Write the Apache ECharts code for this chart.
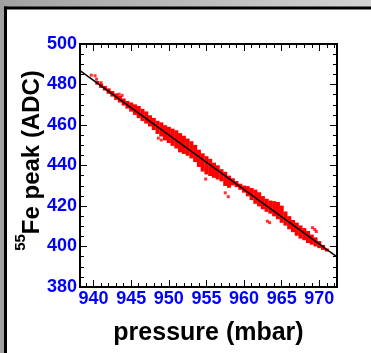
<!DOCTYPE html>
<html>
<head>
<meta charset="utf-8">
<script src="https://cdn.jsdelivr.net/npm/echarts@6/dist/echarts.min.js"></script>
<style>
  html, body { margin: 0; padding: 0; background: #fff; }
  #chart { width: 371px; height: 353px; }
</style>
</head>
<body>
<div id="chart"></div>
<script>
// band of measured points: pressure (mbar) and upper / lower edge of the red cloud (ADC)
var bandPressure = [940.5, 941, 941.5, 942, 942.5, 943, 943.5, 944, 944.5, 945,
  945.5, 946, 946.5, 947, 947.5, 948, 948.5, 949, 949.5, 950,
  950.5, 951, 951.5, 952, 952.5, 953, 953.5, 954, 954.5, 955,
  955.5, 956, 956.5, 957, 957.5, 958, 958.5, 959, 959.5, 960,
  960.5, 961, 961.5, 962, 962.5, 963, 963.5, 964, 964.5, 965,
  965.5, 966, 966.5, 967, 967.5, 968, 968.5, 969, 969.5, 970,
  970.5, 971];
var bandHigh = [481.7, 480.5, 479.3, 478.1, 476.8, 475.6, 474.4, 473.1, 471.9, 471.1,
  470.2, 469.4, 468.0, 466.7, 464.8, 463.5, 462.1, 461.3, 459.9, 459.1,
  458.2, 457.4, 456.0, 454.7, 453.3, 452.0, 450.2, 447.8, 446.0, 444.6,
  443.3, 441.4, 440.1, 438.2, 436.9, 435.0, 433.7, 432.3, 431.0, 430.1,
  429.8, 428.9, 428.1, 426.8, 424.9, 423.6, 422.7, 422.4, 422.0, 420.2,
  417.3, 415.0, 413.1, 411.8, 410.4, 409.1, 407.7, 405.9, 404.5, 402.7,
  400.8, 399.0];
var bandLow = [479.9, 478.3, 477.0, 475.4, 474.0, 472.4, 471.1, 469.6, 468.1, 466.6,
  465.0, 463.4, 462.0, 460.7, 459.3, 457.5, 455.6, 454.3, 452.4, 451.1,
  449.7, 448.4, 446.5, 445.7, 444.8, 443.5, 441.7, 439.3, 437.0, 435.6,
  434.8, 433.9, 433.1, 432.2, 429.9, 429.0, 430.2, 429.3, 428.0, 426.6,
  424.8, 422.9, 421.1, 419.8, 418.4, 417.1, 416.2, 414.9, 413.5, 411.7,
  410.3, 408.5, 407.1, 405.3, 403.9, 403.1, 401.7, 400.9, 400.0, 399.2,
  398.3, 397.5];
// isolated points outside the dense band
var strayPoints = [[939.7, 484.6], [940.2, 484.3], [940.4, 482.6], [941.0, 480.9],
  [943.4, 475.2], [943.8, 474.6], [948.6, 453.5], [949.0, 452.6],
  [954.9, 433.3], [957.5, 426.5], [957.9, 424.6], [963.1, 412.5],
  [963.4, 411.8], [969.1, 409.3], [969.4, 408.4], [969.6, 407.4]];
// straight-line fit, end points at the frame edges
var fitLine = [[938.2, 486.8], [972.35, 394.85]];

var xMajorTicks = [940, 945, 950, 955, 960, 965, 970];
var xMinorTicks = [939, 941, 942, 943, 944, 946, 947, 948, 949, 951, 952, 953, 954,
  956, 957, 958, 959, 961, 962, 963, 964, 966, 967, 968, 969, 971, 972];

var chart = echarts.init(document.getElementById('chart'));

var black = '#000000';
var labelStyle = {
  color: '#0000ff', fontWeight: 'bold', fontSize: 18,
  fontFamily: 'Liberation Sans', margin: 3
};

function xAxisDef(pos, ticks, len, withLabels) {
  var ax = {
    type: 'value', position: pos, min: 938.2, max: 972.35,
    axisLine: { show: true, onZero: false, lineStyle: { color: black, width: 2 } },
    axisTick: { show: true, inside: true, length: len, customValues: ticks,
      lineStyle: { color: black, width: 1 } },
    axisLabel: { show: false },
    splitLine: { show: false }
  };
  if (withLabels) {
    ax.axisLabel = Object.assign({ show: true, customValues: ticks }, labelStyle);
    ax.name = 'pressure (mbar)';
    ax.nameLocation = 'middle';
    ax.nameGap = 34;
    ax.nameMoveOverlap = false;
    ax.nameTextStyle = { color: black, fontWeight: 'bold', fontSize: 25,
      fontFamily: 'Liberation Sans' };
  }
  return ax;
}

function yAxisDef(pos, withLabels) {
  var ax = {
    type: 'value', position: pos, min: 380, max: 500, interval: 20,
    axisLine: { show: true, onZero: false, lineStyle: { color: black, width: 2 } },
    axisTick: { show: true, inside: true, length: 7, lineStyle: { color: black, width: 1 } },
    minorTick: { show: true, splitNumber: 4, length: 4, lineStyle: { color: black, width: 1 } },
    axisLabel: withLabels ? Object.assign({ show: true }, labelStyle) : { show: false },
    splitLine: { show: false }
  };
  if (withLabels) {
    ax.name = '{s|55}{m|Fe peak (ADC)}';
    ax.nameLocation = 'middle';
    ax.nameRotate = 90;
    ax.nameGap = 29;
    ax.nameMoveOverlap = false;
    ax.nameTextStyle = {
      padding: [0, 0, 0, 10],
      rich: {
        m: { color: black, fontWeight: 'bold', fontSize: 24, lineHeight: 38,
          fontFamily: 'Liberation Sans' },
        s: { color: black, fontWeight: 'bold', fontSize: 15, lineHeight: 14,
          verticalAlign: 'top', fontFamily: 'Liberation Sans' }
      }
    };
  }
  return ax;
}

var option = {
  animation: false,
  backgroundColor: '#ffffff',
  grid: { left: 80, top: 44, width: 257, height: 243, outerBoundsMode: 'none' },
  graphic: [
    { type: 'rect', shape: { x: 0, y: 0, width: 371, height: 7 },
      style: { fill: new echarts.graphic.LinearGradient(0, 0, 1, 0, [
        { offset: 0, color: '#a2a2a2' }, { offset: 1, color: '#d3d3d3' }]) } },
    { type: 'rect', shape: { x: 0, y: 0, width: 4, height: 353 }, style: { fill: '#a0a0a0' } },
    { type: 'rect', shape: { x: 4, y: 6.5, width: 367, height: 3 }, style: { fill: black } },
    { type: 'rect', shape: { x: 4, y: 6.5, width: 3, height: 347 }, style: { fill: black } }
  ],
  xAxis: [
    xAxisDef('bottom', xMajorTicks, 7, true),
    xAxisDef('bottom', xMinorTicks, 4, false),
    xAxisDef('top', xMajorTicks, 7, false),
    xAxisDef('top', xMinorTicks, 4, false)
  ],
  yAxis: [yAxisDef('left', true), yAxisDef('right', false)],
  series: [
    {
      type: 'custom',
      xAxisIndex: 0, yAxisIndex: 0,
      clip: true,
      data: bandPressure.map(function (p, i) { return [p, bandLow[i], bandHigh[i]]; }),
      encode: { x: 0, y: [1, 2] },
      renderItem: function (params, api) {
        var x = api.value(0);
        var a = api.coord([x - 0.27, api.value(2)]);
        var b = api.coord([x + 0.27, api.value(1)]);
        return {
          type: 'rect',
          shape: { x: a[0], y: a[1], width: b[0] - a[0], height: b[1] - a[1] },
          style: { fill: '#ff0000' }
        };
      }
    },
    {
      type: 'scatter',
      xAxisIndex: 0, yAxisIndex: 0,
      symbol: 'rect', symbolSize: 3,
      itemStyle: { color: '#ff0000' },
      data: strayPoints
    },
    {
      type: 'line',
      xAxisIndex: 0, yAxisIndex: 0,
      symbol: 'none',
      lineStyle: { color: black, width: 1.5 },
      data: fitLine,
      z: 5
    }
  ]
};
chart.setOption(option);
</script>
</body>
</html>
